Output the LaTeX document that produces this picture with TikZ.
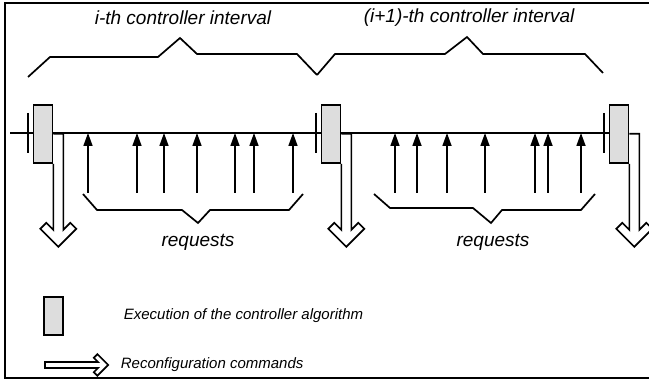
\documentclass[tikz,border=0pt]{standalone}
\usepackage{fontspec}
\setmainfont{Liberation Sans}
\usepackage{tikz}
\usetikzlibrary{arrows.meta,calc}
\definecolor{ctrlgray}{HTML}{DDDDDD}

\begin{document}
\begin{tikzpicture}[x=1pt,y=-1pt,line width=1.7pt,
  ctrl/.style={draw,fill=ctrlgray,minimum width=19pt,minimum height=58pt,inner sep=0pt},
  lbl/.style={font=\fontsize{19}{22}\selectfont\itshape,inner sep=0pt},
  leg/.style={font=\fontsize{15}{18}\selectfont\itshape,inner sep=0pt,anchor=west},
  req/.style={-{Triangle[length=13pt,width=9pt]}}]
  \useasboundingbox (0,0) rectangle (649,379);
  % frame, open on the right
  \draw (649,3) -- (5,3) -- (5,378) -- (649,378);
  % interval labels and upper braces
  \node[lbl] (ith) at (183,18) {i-th controller interval};
  \node[lbl,anchor=west] (iplus) at (363,18) {(i+1)-th controller interval};
  \draw (28,77) -- (50,57) -- (158,57) -- (180,38) -- (197,54) -- (297,54) -- (317,75);
  \draw (317,75) -- (335,54) -- (445,54) -- (467,37) -- (483,54) -- (585,54) -- (603,73);
  % time line and controller runs
  \coordinate (tl) at (10,133);
  \node[ctrl] (ctrl1) at (43,134) {};
  \node[ctrl] (ctrl2) at (331,134) {};
  \node[ctrl] (ctrl3) at (619,134) {};
  \draw (tl) -- (ctrl3.west |- tl);
  \foreach \x [count=\i] in {88,137,164,197,235,254,293,395,417,447,485,535,548,581} {
    \coordinate (r\i) at (\x,193);
    \draw[req] (r\i) -- (r\i |- tl);
  }
  \foreach \b in {ctrl1,ctrl2,ctrl3} {
    \node[ctrl] at (\b) {};
    \draw ([xshift=-5pt]\b.west) ++(0,-21) -- ++(0,40);
    \draw (\b.south east) -- ++(0,66) -- ++(-7,-7) -- ++(-6,6) -- ++(18,18) -- ++(18,-18)
      -- ++(-6,-6) -- ++(-7,7) -- ++(0,-96) -- ++(-10,0);
  }
  % request braces
  \draw (83,194) -- (97,210) -- (182,210) -- (198,223) -- (210,210) -- (289,210) -- (303,194);
  \draw (374,194) -- (390,208) -- (473,208) -- (491,223) -- (502,210) -- (581,210) -- (595,194);
  \node[lbl] (req1) at (198,242) {requests};
  \node[lbl] (req2) at (493,242) {requests};
  % legend
  \node[ctrl,minimum height=38pt] (legbox) at (53.5,316) {};
  \node[leg] (legexec) at (123,316) {Execution of the controller algorithm};
  \coordinate (legtail) at (45,362);
  \draw (legtail) -- ++(53,0) -- ++(-4.2,-4.2) -- ++(3.6,-3.6) -- ++(10.8,10.8) -- ++(-10.8,10.8)
    -- ++(-3.6,-3.6) -- ++(4.2,-4.2) -- ++(-53,0) -- cycle;
  \node[leg] (legreconf) at (120,365) {Reconfiguration commands};
\end{tikzpicture}
\end{document}
